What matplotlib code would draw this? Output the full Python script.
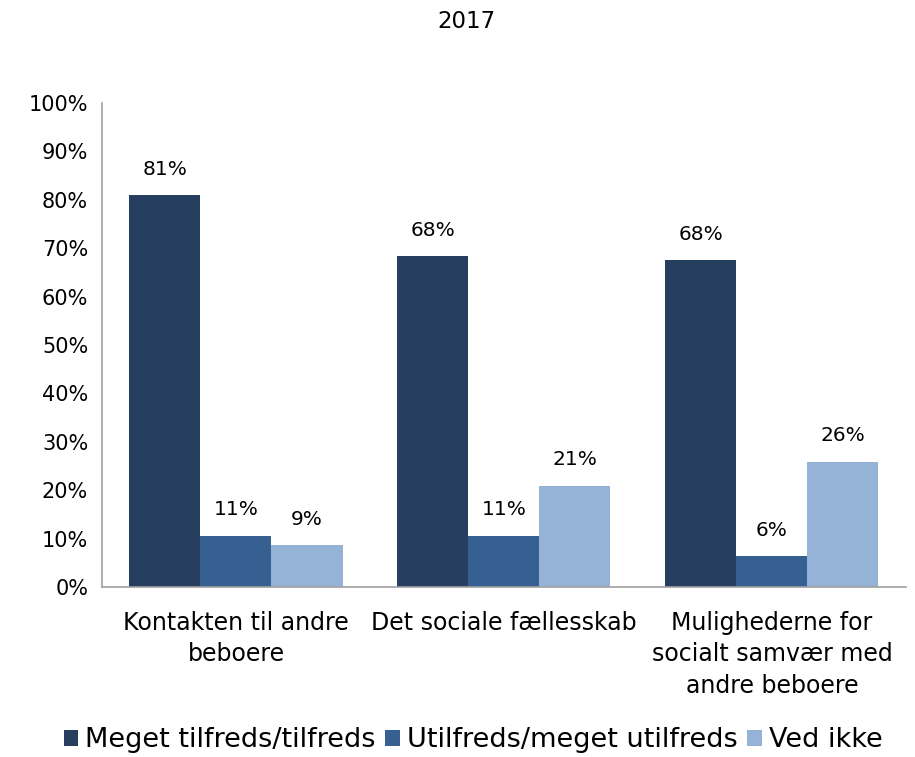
import matplotlib
matplotlib.use("Agg")
import matplotlib.pyplot as plt
import numpy as np

categories = ["Kontakten til andre\nbeboere", "Det sociale fællesskab",
              "Mulighederne for\nsocialt samvær med\nandre beboere"]
series_names = ["Meget tilfreds/tilfreds", "Utilfreds/meget utilfreds", "Ved ikke"]
meget_tilfreds = [80.9, 68.3, 67.5]
utilfreds = [10.6, 10.6, 6.3]
ved_ikke = [8.6, 20.9, 25.9]
yticks = [0, 10, 20, 30, 40, 50, 60, 70, 80, 90, 100]
title = "2017"

colors = ["#263F60", "#366092", "#95B3D7"]

plt.rcParams['font.family'] = ['DejaVu Sans']
fig = plt.figure(figsize=(9.15, 7.57), dpi=100)
ax = fig.add_axes([0.1115, 0.2246, 0.8785, 0.6394])

x = np.arange(len(categories))
w = 0.265
all_series = [meget_tilfreds, utilfreds, ved_ikke]
for i, (vals, name, c) in enumerate(zip(all_series, series_names, colors)):
    bars = ax.bar(x + (i - 1) * w, vals, width=w, color=c, label=name,
                  edgecolor='none')
    for b, v in zip(bars, vals):
        ax.annotate(f"{v:.0f}%", (b.get_x() + b.get_width() / 2, v),
                    xytext=(0, 12), textcoords='offset points',
                    ha='center', va='bottom', fontsize=14.5, color='black')

ax.set_xlim(-0.5, 2.5)
ax.set_ylim(0, 100)
ax.set_yticks(yticks)
ax.set_yticklabels([f"{t}%" for t in yticks], fontsize=15)
ax.set_xticks(x)
ax.set_xticklabels(categories, fontsize=17, linespacing=1.4)
ax.tick_params(axis='both', length=0, pad=10)
ax.tick_params(axis='x', pad=17)
for s in ['top', 'right']:
    ax.spines[s].set_visible(False)
for s in ['left', 'bottom']:
    ax.spines[s].set_color('#A0A0A0')
    ax.spines[s].set_linewidth(1.2)

fig.text(0.51, 0.972, title, ha='center', va='center', fontsize=16.5)

fig.legend(loc='center', bbox_to_anchor=(0.517, 0.022), ncol=3, frameon=False,
           fontsize=19.5, handlelength=0.55, handleheight=0.55, handletextpad=0.25,
           columnspacing=0.35)

fig.savefig("out.png", dpi=100)
